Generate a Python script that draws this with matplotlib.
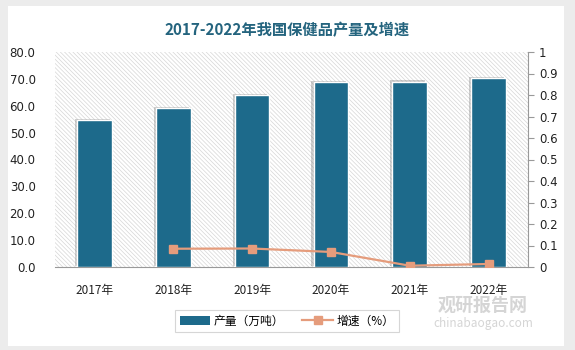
import matplotlib
matplotlib.use("Agg")
import matplotlib.pyplot as plt
import matplotlib.patheffects as pe
from matplotlib.patches import Rectangle, Patch
from matplotlib.lines import Line2D
import numpy as np

plt.rcParams['font.family'] = ['Noto Sans CJK SC', 'DejaVu Sans']
plt.rcParams['hatch.linewidth'] = 0.5

# data
years = ['2017年', '2018年', '2019年', '2020年', '2021年', '2022年']
output = [54.6, 59.1, 64.0, 68.8, 69.0, 70.3]          # 产量（万吨）
growth_x = ['2018年', '2019年', '2020年', '2021年', '2022年']
growth = [0.085, 0.086, 0.070, 0.006, 0.014]            # 增速（%）

left_ticks = [0, 10, 20, 30, 40, 50, 60, 70, 80]
right_ticks = [0, 0.1, 0.2, 0.3, 0.4, 0.5, 0.6, 0.7, 0.8, 0.9, 1]

bar_color = '#1d6a8b'
line_color = '#e59c7c'

fig = plt.figure(figsize=(5.75, 3.5), dpi=100)
fig.patch.set_facecolor('#ececec')
# white card behind everything
fig.patches.append(Rectangle((8 / 575, 4 / 350), 556 / 575, 340 / 350,
                             transform=fig.transFigure, facecolor='white',
                             edgecolor='none', zorder=-5))

ax = fig.add_axes([55 / 575, 83 / 350, 473 / 575, 215 / 350])
ax.set_facecolor('white')
ax.patch.set_hatch('\\' * 8)
ax.patch.set_edgecolor('#d6d6d6')
ax.patch.set_linewidth(0)

x = np.arange(len(years))
bars = ax.bar(x, output, width=0.44, color=bar_color, edgecolor='white',
              linewidth=1.0, zorder=3)
for b in bars:
    b.set_path_effects([pe.SimplePatchShadow(offset=(-1.5, 1), shadow_rgbFace='#777777', alpha=0.35),
                        pe.Normal()])

ax.set_xlim(-0.5, len(years) - 0.5)
ax.set_ylim(0, 80)
ax.set_yticks(left_ticks)
ax.set_yticklabels([f'{v:.1f}' for v in left_ticks], fontsize=8.5, color='#222222',
                   family='DejaVu Sans')
ax.set_xticks(x)
ax.set_xticklabels(years, fontsize=8.5, color='#222222')
ax.tick_params(axis='y', length=0, pad=14)
ax.tick_params(axis='x', length=0, pad=12)
for s in ['top', 'right', 'left']:
    ax.spines[s].set_visible(False)
ax.spines['bottom'].set_color('#999999')
ax.spines['bottom'].set_linewidth(0.8)

ax2 = ax.twinx()
gx = [years.index(g) for g in growth_x]
ax2.plot(gx, growth, color=line_color, linewidth=1.6, marker='s', markersize=6,
         zorder=4)
ax2.set_ylim(0, 1)
ax2.set_yticks(right_ticks)
ax2.set_yticklabels([f'{v:g}' for v in right_ticks], fontsize=8.5, color='#222222',
                    family='DejaVu Sans')
ax2.tick_params(axis='y', length=4, color='#999999', direction='out', pad=4)
for s in ['top', 'left', 'bottom']:
    ax2.spines[s].set_visible(False)
ax2.spines['right'].set_color('#999999')
ax2.spines['right'].set_linewidth(0.8)

fig.text(0.5, 0.915, '2017-2022年我国保健品产量及增速', ha='center', va='center',
         fontsize=11, fontweight='bold', color='#24647e')

handles = [Patch(facecolor=bar_color, edgecolor='none'),
           Line2D([], [], color=line_color, linewidth=1.6, marker='s', markersize=6)]
leg = fig.legend(handles, ['产量（万吨）', '增速（%）'], loc='center',
                 bbox_to_anchor=(287 / 575, 29 / 350),
                 ncol=2, fontsize=8.5, frameon=True, fancybox=False,
                 edgecolor='#cccccc', handlelength=2.6, columnspacing=1.5,
                 handletextpad=0.3, borderpad=0.4)
leg.get_frame().set_linewidth(0.8)

# watermark
fig.text(483 / 575, 1 - 305 / 350, '观研报告网', ha='center', va='center',
         fontsize=13, fontweight='bold', color='#d5d5d5')
fig.text(483 / 575, 1 - 323 / 350, 'chinabaogao.com', ha='center', va='center',
         fontsize=8.5, color='#d5d5d5')

fig.savefig('out.png', dpi=100, facecolor=fig.get_facecolor())
